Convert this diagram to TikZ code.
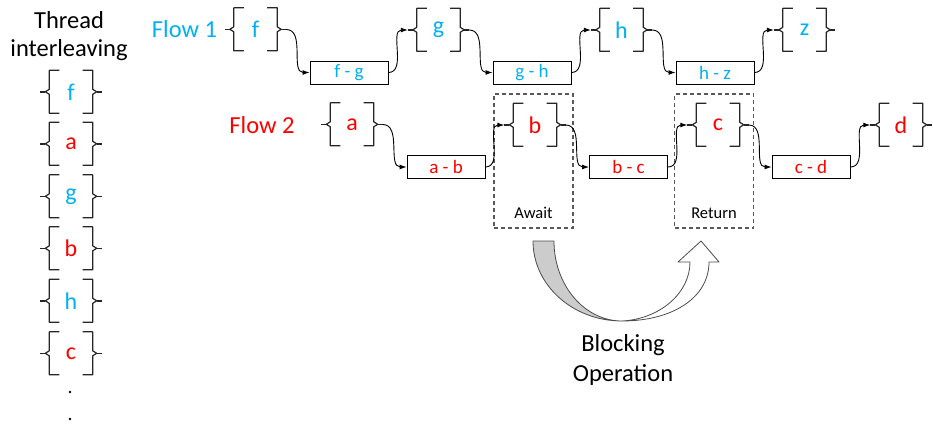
\documentclass[tikz,border=0pt]{standalone}
\usepackage{fontspec}
\setmainfont{Carlito}
\usetikzlibrary{arrows.meta,calc}
\definecolor{fblue}{HTML}{00B0F0}
\definecolor{fred}{HTML}{FF0000}
\definecolor{brc}{HTML}{262626}
\newcommand\drawbraces[1]{%
  \draw[bracepen] ($(#1.north west)+(19,0)$) -- ++(-10,0) -- ++(0,19) -- ++(-4,2.5) -- ++(4,2.5) -- ++(0,19) -- ++(10,0);
  \draw[bracepen] ($(#1.west)+(5,0)$) -- (#1.west);
  \draw[bracepen] ($(#1.north east)+(-19,0)$) -- ++(10,0) -- ++(0,19) -- ++(4,2.5) -- ++(-4,2.5) -- ++(0,19) -- ++(-10,0);
  \draw[bracepen] ($(#1.east)+(-5,0)$) -- (#1.east);
}
\tikzset{
  brk/.style={minimum width=61pt, minimum height=43pt, inner sep=0pt, font=\fontsize{24}{28}\selectfont},
  bracepen/.style={draw=brc, line width=1.2pt, line join=round},
  opbox/.style={draw, line width=0.9pt, minimum width=78pt, minimum height=23pt, inner sep=0pt, font=\fontsize{19}{22}\selectfont},
  conn/.style={-{Latex[length=7pt,width=5pt]}, line width=0.9pt, out=0, in=180},
  dbox/.style={draw=black!65, dash pattern=on 4pt off 3pt, line width=1.5pt, minimum width=79pt, minimum height=134pt, inner sep=0pt},
  bigtxt/.style={font=\fontsize{24.5}{28.5}\selectfont, align=center, inner sep=0pt},
  smalltxt/.style={font=\fontsize{16.5}{19}\selectfont, inner sep=0pt},
}
\begin{document}
\begin{tikzpicture}[x=1pt,y=-1pt]
\useasboundingbox (0,0) rectangle (933,428);

% dashed boxes
\node[dbox] (await) at (533.5,161) {};
\node[dbox] (return) at (714,161) {};
\node[smalltxt] (awaitlbl) at (533.5,213) {Await};
\node[smalltxt] (returnlbl) at (714,213) {Return};

% labels
\node[bigtxt, text=fblue] (flow1) at (184.5,29) {Flow 1};
\node[bigtxt, text=fred] (flow2) at (262,125) {Flow 2};
\node[bigtxt] (thread) at (69,36) {Thread\\interleaving};

% flow 1
\node[brk, text=fblue] (f) at (255.5,29.5) {f};
\node[brk, text=fblue] (g) at (438.5,30) {g};
\node[brk, text=fblue] (h) at (621.5,30) {h};
\node[brk, text=fblue] (z) at (804.5,30) {z};
\node[opbox, text=fblue] (fg) at (349,72.5) {f - g};
\node[opbox, text=fblue] (gh) at (532,72.5) {g - h};
\node[opbox, text=fblue] (hz) at (715,72.5) {h - z};

% flow 2
\node[brk, text=fred] (a) at (352,124.5) {a};
\node[brk, text=fred] (b) at (535,125) {b};
\node[brk, text=fred] (c) at (718,125) {c};
\node[brk, text=fred] (d) at (901,125) {d};
\node[opbox, text=fred] (ab) at (446,167) {a - b};
\node[opbox, text=fred] (bc) at (628.5,167) {b - c};
\node[opbox, text=fred] (cd) at (811,167) {c - d};

% left column
\node[brk, text=fblue] (t1) at (71,92) {f};
\node[brk, text=fred]  (t2) at (71,144) {a};
\node[brk, text=fblue] (t3) at (71,196.5) {g};
\node[brk, text=fred]  (t4) at (71,248.5) {b};
\node[brk, text=fblue] (t5) at (71,301) {h};
\node[brk, text=fred]  (t6) at (71,353.5) {c};
\fill (70,392) circle (1.3);
\fill (70,419) circle (1.3);

\foreach \n in {f,g,h,z,a,b,c,d,t1,t2,t3,t4,t5,t6} {\drawbraces{\n}}

% connectors
\draw[conn] (f.east) to (fg.west);
\draw[conn] (fg.east) to (g.west);
\draw[conn] (g.east) to (gh.west);
\draw[conn] (gh.east) to (h.west);
\draw[conn] (h.east) to (hz.west);
\draw[conn] (hz.east) to (z.west);
\draw[conn] (a.east) to (ab.west);
\draw[conn] (ab.east) to (b.west);
\draw[conn] (b.east) to (bc.west);
\draw[conn] (bc.east) to (c.west);
\draw[conn] (c.east) to (cd.west);
\draw[conn] (cd.east) to (d.west);

% blocking operation arrow
\filldraw[fill=black!20, draw=black!70, line width=0.8pt, line join=round]
  (533,241) -- (554,241) .. controls (554,285.2) and (584.4,321) .. (622,321)
  .. controls (572.8,321) and (533,285.2) .. (533,241) -- cycle;
\filldraw[fill=white, draw=black!70, line width=0.8pt, line join=round]
  (622,321) .. controls (672,321) and (709,298) .. (709,262) -- (719,262) -- (701,241)
  -- (678,262) -- (690,262) .. controls (690,293) and (660,319) .. (622,321) -- cycle;
\node[bigtxt, font=\fontsize{24.5}{30}\selectfont] (blocking) at (623,360) {Blocking\\Operation};
\end{tikzpicture}
\end{document}
